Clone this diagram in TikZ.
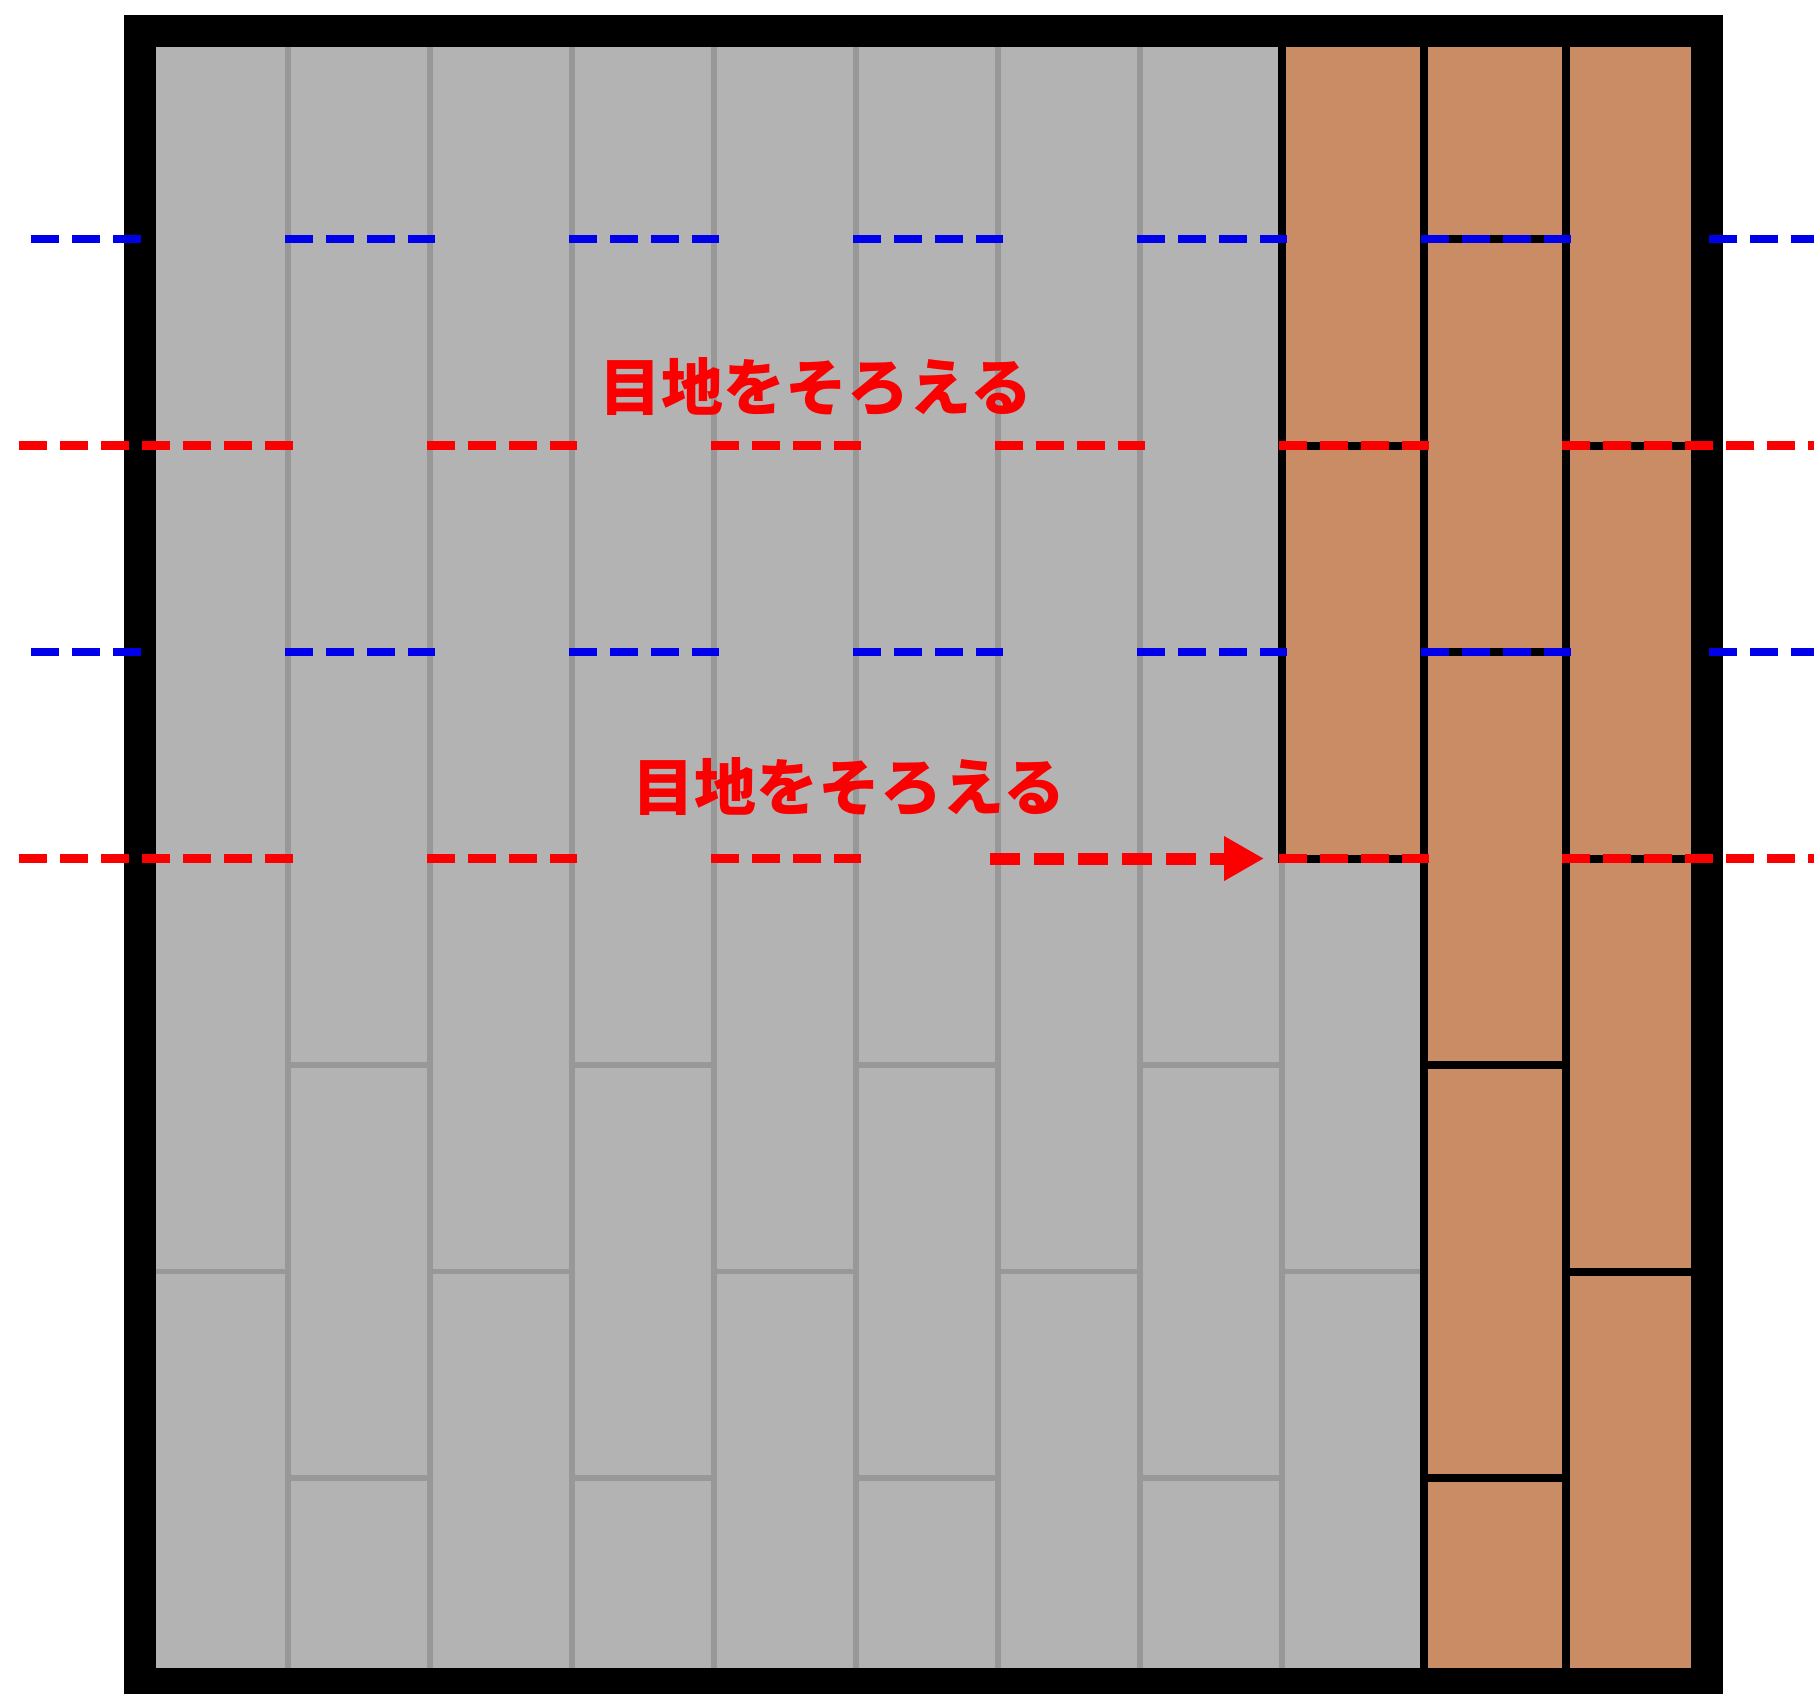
\documentclass[tikz,border=0pt]{standalone}
\usepackage{fontspec}
\newfontfamily\jpfont{Noto Sans CJK JP}
\usetikzlibrary{arrows.meta}
\definecolor{tilegray}{RGB}{179,179,179}
\definecolor{jointgray}{RGB}{152,152,152}
\definecolor{wood}{RGB}{202,140,100}
\definecolor{guidered}{RGB}{250,0,0}
\definecolor{guideblue}{RGB}{0,0,235}
\tikzset{
  graytile/.style={fill=tilegray, draw=jointgray, line width=2.6pt},
  woodtile/.style={fill=wood, draw=black, line width=4pt},
  jointcover/.style={draw=tilegray, line width=3.4pt},
  framebox/.style={draw=black, line width=16pt},
  blueguide/.style={draw=guideblue, line width=4.4pt, dash pattern=on 14pt off 6.5pt},
  redguide/.style={draw=guidered, line width=4.4pt, dash pattern=on 14pt off 6.5pt},
  redarrow/.style={draw=guidered, line width=6pt, dash pattern=on 15pt off 7pt,
    -{Triangle[length=20pt,width=21pt,fill=guidered]}},
  lbl/.style={text=guidered, font=\jpfont\bfseries\fontsize{31pt}{31pt}\selectfont, inner sep=0pt}
}
\begin{document}
\begin{tikzpicture}[x=0.5pt,y=-0.5pt]
\useasboundingbox (0,0) rectangle (1814,1693);
% planks
\begin{scope}
\clip (140,31) rectangle (1707,1693);
\foreach \k in {0,...,10}{
  \pgfmathsetmacro{\xa}{146+142*\k}
  \pgfmathsetmacro{\xb}{\xa+142}
  \ifodd\k
    \foreach \ya in {-174,239,652,1065,1478}{
      \draw[graytile] (\xa,\ya) rectangle (\xb,\ya+413);
    }
  \else
    \foreach \ya in {-380.5,32.5,445.5,858.5,1271.5}{
      \draw[graytile] (\xa,\ya) rectangle (\xb,\ya+413);
    }
  \fi
}
% joints hidden under the guide lines in the grey field
\foreach \c in {359,643,927,1211}{
  \foreach \y in {239,652}{
    \draw[jointcover] (\c-68,\y) -- (\c+68,\y);
  }
}
\foreach \c in {217,501,785,1069}{
  \foreach \y in {445.5,858.5}{
    \draw[jointcover] (\c-68,\y) -- (\c+68,\y);
  }
}
% wood planks
\foreach \ya in {32.5,445.5}{
  \draw[woodtile] (1282,\ya) rectangle (1424,\ya+413);
}
\foreach \ya in {-174,239,652,1065,1478}{
  \draw[woodtile] (1424,\ya) rectangle (1566,\ya+413);
}
\foreach \ya in {-380.5,32.5,445.5,858.5,1271.5}{
  \draw[woodtile] (1566,\ya) rectangle (1708,\ya+413);
}
\end{scope}
% frame
\draw[framebox] (140,31) rectangle (1707,1684);
% blue guides
\foreach \y in {239,652}{
  \draw[blueguide] (31,\y) -- (143,\y);
  \foreach \c in {359,643,927,1211,1495}{
    \draw[blueguide] (\c-74,\y) -- (\c+76,\y);
  }
  \draw[blueguide] (1709,\y) -- (1830,\y);
}
% red guides
\draw[redguide] (19,445.5) -- (293,445.5);
\foreach \c in {501,785,1069,1353}{
  \draw[redguide] (\c-74,445.5) -- (\c+76,445.5);
}
\draw[redguide] (1562,445.5) -- (1830,445.5);
\draw[redguide] (19,858.5) -- (293,858.5);
\foreach \c in {501,785,1353}{
  \draw[redguide] (\c-74,858.5) -- (\c+76,858.5);
}
\draw[redguide] (1562,858.5) -- (1830,858.5);
\coordinate (arrowstart) at (990,858.5);
\coordinate (arrowend) at (1264,858.5);
\draw[redarrow] (arrowstart) -- (arrowend);
% labels
\node[lbl] (label1) at (816,387) {目地をそろえる};
\node[lbl] (label2) at (849,787) {目地をそろえる};
\end{tikzpicture}
\end{document}
